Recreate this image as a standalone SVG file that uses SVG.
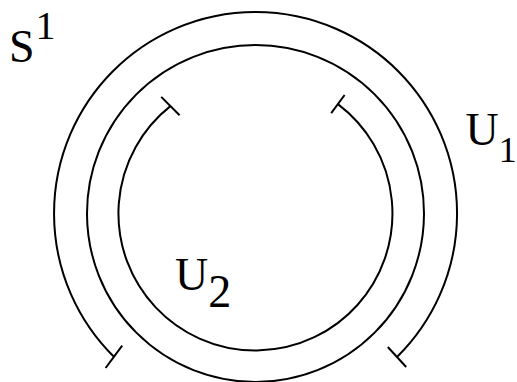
<svg xmlns="http://www.w3.org/2000/svg" width="517" height="382" viewBox="0 0 517 382">
<style>
.c{fill:none;stroke:#000;stroke-width:2}
.t{stroke:#000;stroke-width:2}
text{font-family:'Liberation Serif','DejaVu Serif',serif;font-size:46px;fill:#000}
.s{font-size:36px}
.s2{font-size:40px}
</style>
<rect width="517" height="382" fill="#fff"/>
<g id="S1">
<circle class="c" cx="255.5" cy="213.5" r="168.5"/>
<text x="9" y="62" font-family="Liberation Serif, serif">S<tspan class="s2" dx="1" dy="-23">1</tspan></text>
</g>
<g id="U1">
<path class="c" d="M 113.9 356.8 A 201.5 201.5 0 1 1 397 357"/>
<text x="465.5" y="145" font-family="Liberation Serif, serif">U<tspan class="s" dy="17">1</tspan></text>
</g>
<g id="U2">
<path class="c" d="M 170.4 106.1 A 137 137 0 1 0 337.9 104.1"/>
<text x="175" y="290" font-family="Liberation Serif, serif">U<tspan dy="17">2</tspan></text>
</g>
<g id="connectors">
<line class="t" x1="161.2" y1="96.9" x2="179.6" y2="115.3"/>
<line class="t" x1="344.6" y1="95" x2="331.2" y2="113.2"/>
<line class="t" x1="122.2" y1="345.6" x2="105.6" y2="368"/>
<line class="t" x1="387.8" y1="347" x2="406.2" y2="367"/>
</g>
</svg>
